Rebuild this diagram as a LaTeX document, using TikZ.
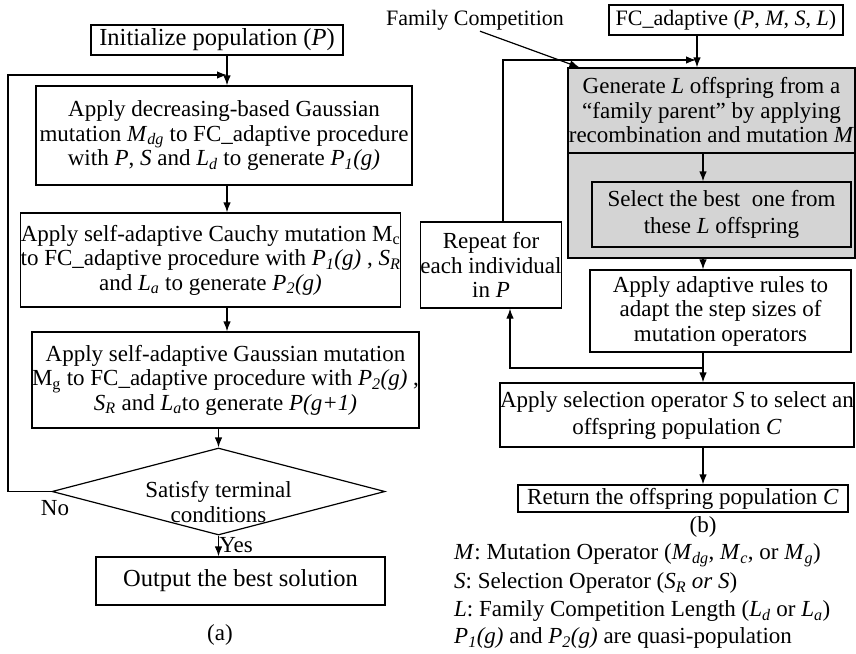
\documentclass[tikz,border=0pt]{standalone}
\usepackage{fontspec}
\setmainfont{Liberation Serif}
\usetikzlibrary{arrows.meta,shapes.geometric}
\newcommand\V[2]{\textit{#1}\textsubscript{\textit{#2}}}
\newcommand\bodyfnt{\fontsize{23}{24.5}\selectfont}
\newcommand\smallfnt{\fontsize{22}{24}\selectfont}
\newcommand\bigfnt{\fontsize{24.5}{26}\selectfont}
\begin{document}
\begin{tikzpicture}[x=1pt,y=-1pt,
  box/.style={draw, line width=1.2pt, align=center, inner sep=0pt, font=\bodyfnt},
  txt/.style={align=center, inner sep=1pt, font=\bodyfnt},
  arr/.style={draw, line width=1.2pt, -{Latex[length=10pt,width=7.5pt]}},
  ]
\useasboundingbox (0,0) rectangle (856,653);

% ---------- (a) ----------
\node[box, minimum width=252, minimum height=30, font=\bigfnt] (init) at (217,40) {Initialize population (\textit{P})};
\node[box, minimum width=376, minimum height=99] (dec) at (224,135.5)
  {Apply decreasing-based Gaussian\\ mutation \V{M}{dg} to FC\_adaptive procedure\\ with \textit{P}, \textit{S} and \V{L}{d} to generate \V{P}{1}\textit{(g)}};
\node[box, minimum width=369, minimum height=94] (cau) at (210.5,260)
  {Apply self-adaptive Cauchy mutation M\textsubscript{c}\\ to FC\_adaptive procedure with \V{P}{1}\textit{(g)} , \V{S}{R}\\ and \V{L}{a} to generate \V{P}{2}\textit{(g)}};
\node[box, minimum width=379, minimum height=96] (gau) at (225.5,380)
  {Apply self-adaptive Gaussian mutation\\ M\textsubscript{g} to FC\_adaptive procedure with \V{P}{2}\textit{(g)} ,\\ \V{S}{R} and \V{L}{a}to generate \textit{P(g+1)}};
\node[draw, diamond, line width=1.2pt, minimum width=333, minimum height=87, inner sep=0pt] (sat) at (218.5,491.5) {};
\node[txt] (satt) at (218.5,502) {Satisfy terminal\\conditions};
\node[box, minimum width=289, minimum height=48, font=\bigfnt] (out) at (240.5,581) {\raisebox{5pt}{Output the best solution}};
\node[txt] (capa) at (220,635) {(a)};
\node[txt] (no) at (55,508) {No};
\node[txt] (yes) at (236,545) {Yes};

\coordinate (lx) at (227,0);
\coordinate (lpx) at (8,0);
\coordinate (lpy) at (0,75);
\draw[arr] (init.south -| lx) -- (dec.north -| lx);
\draw[arr] (dec.south -| lx) -- (cau.north -| lx);
\draw[arr] (cau.south -| lx) -- (gau.north -| lx);
\draw[arr] (gau.south -| sat.north) -- (sat.north);
\draw[arr] (sat.south) -- (sat.south |- out.north);
\draw[arr] (sat.west) -- (sat.west -| lpx) -- (lpx |- lpy) -- (lx |- lpy);

% ---------- (b) ----------
\node[txt, font=\smallfnt] (famc) at (475,20) {Family Competition};
\node[box, minimum width=234, minimum height=30, font=\smallfnt] (fc) at (726,20) {FC\_adaptive (\textit{P}, \textit{M}, \textit{S}, \textit{L})};
\node[draw, line width=1.2pt, fill=black!17, minimum width=287, minimum height=190, inner sep=0pt] (famreg) at (711.5,163) {};
\node[box, minimum width=287, minimum height=85] (gen) at (711.5,110.5)
  {Generate \textit{L} offspring from a\\ “family parent” by applying\\ recombination and mutation \textit{M}};
\node[box, minimum width=259, minimum height=65, font=\fontsize{23}{27}\selectfont] (sel) at (721.5,214.5)
  {Select the best\ \ one from\\ these \textit{L} offspring};
\node[box, minimum width=138, minimum height=86] (rep) at (491,265)
  {Repeat for\\ each individual\\ in \textit{P}};
\node[box, minimum width=261, minimum height=82] (ada) at (720.5,311)
  {Apply adaptive rules to\\ adapt the step sizes of\\ mutation operators};
\node[box, minimum width=350, minimum height=64, font=\fontsize{23}{27}\selectfont] (selop) at (677,415)
  {Apply selection operator \textit{S} to select an\\ offspring population \textit{C}};
\node[box, minimum width=330, minimum height=27] (ret) at (683,498.5)
  {Return the offspring population \textit{C}};
\node[txt] (capb) at (703,527) {(b)};

\node[txt, anchor=west] (lg1) at (453,555) {\textit{M}: Mutation Operator (\V{M}{dg}, \V{M}{c}, or \V{M}{g})};
\node[txt, anchor=west] (lg2) at (453,583) {\textit{S}: Selection Operator (\V{S}{R} \textit{or S})};
\node[txt, anchor=west] (lg3) at (453,611) {\textit{L}: Family Competition Length (\V{L}{d} or \V{L}{a})};
\node[txt, anchor=west] (lg4) at (453,638) {\V{P}{1}\textit{(g)} and \V{P}{2}\textit{(g)} are quasi-population};

\coordinate (rx) at (697,0);
\coordinate (ry) at (0,60);
\coordinate (cx) at (703,0);
\coordinate (bx) at (510,0);
\coordinate (by) at (0,368);
\coordinate (lpr) at (503,0);
\draw[arr] (fc.south -| rx) -- (famreg.north -| rx);
\draw[arr] (rep.north -| lpr) -- (lpr |- ry) -- ([xshift=-1pt]rx |- ry);
\draw[arr] ([xshift=5pt]famc.south) -- ([xshift=12pt]famreg.north west);
\draw[arr] (gen.south -| cx) -- (sel.north -| cx);
\draw[arr] (famreg.south -| cx) -- (ada.north -| cx);
\draw[arr] (ada.south -| cx) -- (selop.north -| cx);
\draw[arr] (cx |- by) -- (bx |- by) -- (rep.south -| bx);
\draw[arr] (selop.south -| cx) -- (ret.north -| cx);
\end{tikzpicture}
\end{document}
